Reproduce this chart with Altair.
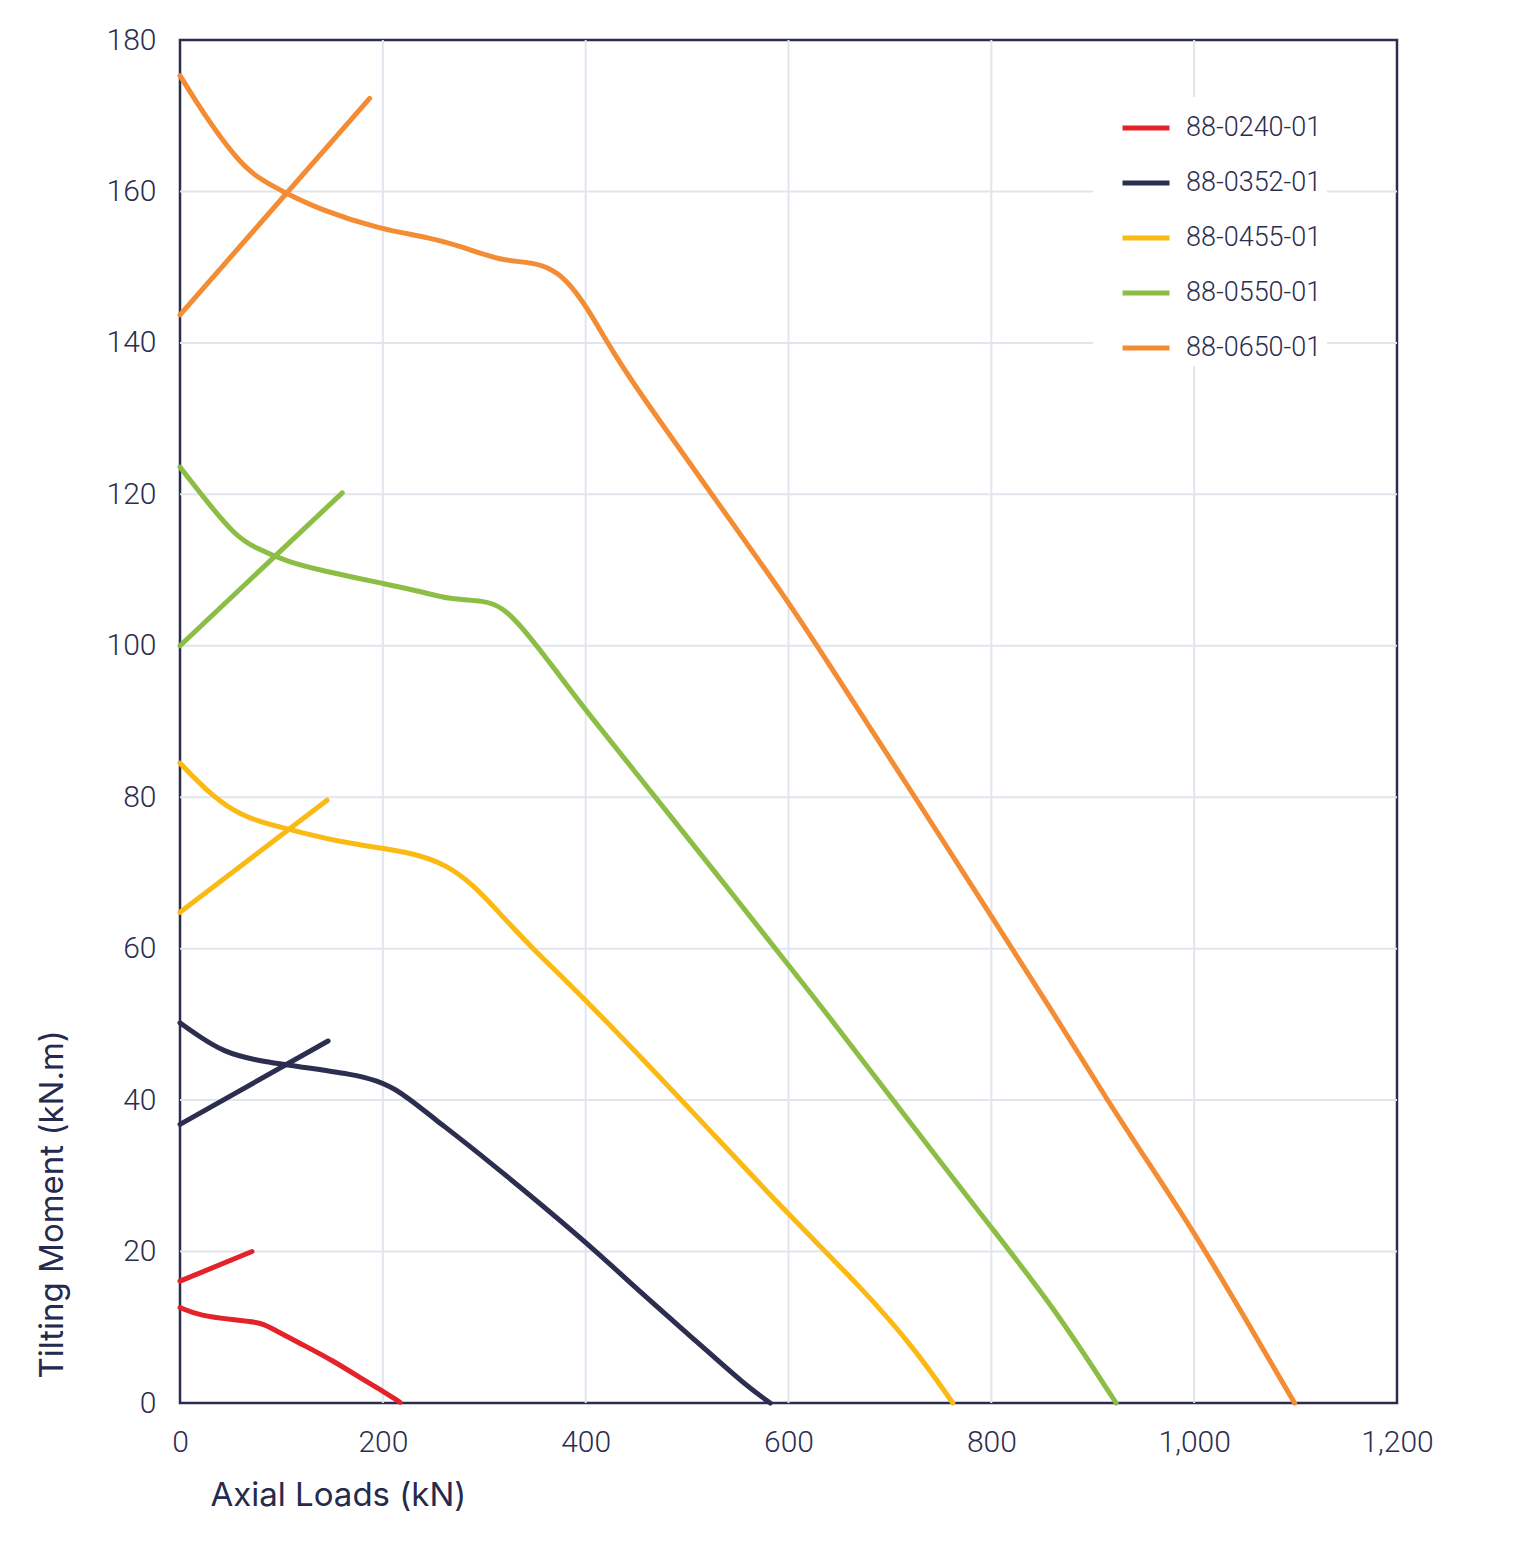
import altair as alt
import pandas as pd

products = ["88-0240-01", "88-0352-01", "88-0455-01", "88-0550-01", "88-0650-01"]
colors = ["#e3222a", "#2c2e50", "#fbb914", "#8cbd45", "#f38c33"]

# descending curves (axial load kN, tilting moment kN.m) and ascending lines
red_dx = [0, 20, 53, 79, 86, 118, 151, 184, 201, 217]
red_dy = [12.6, 11.5, 11.0, 10.6, 10.2, 7.9, 5.6, 2.8, 1.5, 0.1]
red_ax = [0, 71]
red_ay = [16.1, 20.0]

navy_dx = [0, 20, 43, 72, 118, 171, 194, 217, 250, 296, 404, 444, 513, 557, 582]
navy_dy = [50.2, 48.3, 46.4, 45.3, 44.4, 43.4, 42.6, 41.2, 37.6, 32.9, 20.9, 15.8, 7.7, 2.4, 0]
navy_ax = [0, 146]
navy_ay = [36.8, 47.8]

yel_dx = [0, 25, 54, 79, 118, 158, 197, 230, 263, 289, 309, 345, 401, 513, 591, 676, 726, 762]
yel_dy = [84.5, 81.0, 78.0, 76.7, 75.4, 74.1, 73.3, 72.6, 71.1, 68.4, 65.6, 60.3, 53.2, 37.4, 26.1, 14.7, 6.9, 0]
yel_ax = [0, 145]
yel_ay = [64.8, 79.6]

grn_dx = [0, 25, 54, 74, 108, 138, 197, 237, 266, 300, 318, 338, 368, 401, 467, 526, 600, 631, 703, 799, 862, 923]
grn_dy = [123.6, 119.3, 114.6, 112.9, 111.0, 110.0, 108.3, 107.2, 106.1, 106.0, 105.1, 102.4, 97.2, 91.3, 80.3, 70.4, 57.8, 52.6, 40.0, 23.3, 12.6, 0]
grn_ax = [0, 160]
grn_ay = [100.0, 120.2]

org_dx = [0, 23, 56, 76, 104, 138, 197, 247, 280, 316, 342, 362, 381, 401, 427, 460, 526, 600, 631, 720, 799, 859, 916, 964, 1000, 1049, 1099]
org_dy = [175.3, 170.3, 164.2, 161.8, 159.8, 157.6, 155.0, 153.9, 152.6, 150.9, 150.7, 150.1, 148.4, 144.8, 138.7, 132.1, 119.7, 105.8, 99.4, 81.0, 64.5, 52.0, 39.6, 29.9, 22.5, 11.5, 0]
org_ax = [0, 187]
org_ay = [143.7, 172.3]

x_ticks = [0, 200, 400, 600, 800, 1000, 1200]
y_ticks = [0, 20, 40, 60, 80, 100, 120, 140, 160, 180]

series = [
    (products[0], red_dx, red_dy, red_ax, red_ay),
    (products[1], navy_dx, navy_dy, navy_ax, navy_ay),
    (products[2], yel_dx, yel_dy, yel_ax, yel_ay),
    (products[3], grn_dx, grn_dy, grn_ax, grn_ay),
    (products[4], org_dx, org_dy, org_ax, org_ay),
]

rows = []
order = 0
for name, dx, dy, ax, ay in series:
    for x, y in zip(dx, dy):
        rows.append({"product": name, "seg": name + "-d", "load": x, "moment": y, "o": order})
        order += 1
    for x, y in zip(ax, ay):
        rows.append({"product": name, "seg": name + "-a", "load": x, "moment": y, "o": order})
        order += 1
df = pd.DataFrame(rows)

navy = "#2b2d4f"
grid_col = "#e1e5ee"
label_font = "Roboto"

xscale = alt.Scale(domain=[0, 1200], nice=False)
yscale = alt.Scale(domain=[0, 180], nice=False)

x_axis = alt.Axis(values=x_ticks, format=",.0f", title="Axial Loads (kN)",
                  grid=False, domain=False, ticks=False, labelFlush=False,
                  labelFont=label_font, labelFontWeight=300, labelFontSize=30,
                  labelColor=navy, labelPadding=24,
                  titleFont="Inter", titleFontWeight=400, titleFontSize=33,
                  titleColor="#262a4d", titleAnchor="start", titleAlign="left",
                  titleX=30, titleY=92, titleBaseline="middle")
y_axis = alt.Axis(values=y_ticks, title="Tilting Moment (kN.m)",
                  grid=False, domain=False, ticks=False, labelFlush=False,
                  labelFont=label_font, labelFontWeight=300, labelFontSize=30,
                  labelColor=navy, labelPadding=24,
                  titleFont="Inter", titleFontWeight=400, titleFontSize=33,
                  titleColor="#262a4d", titleAnchor="start", titleAlign="left",
                  titleAngle=-90, titleX=-128, titleY=1338, titleBaseline="middle")

# interior grid lines (the frame draws the outer edges)
vgrid = alt.Chart(pd.DataFrame({"load": x_ticks[1:-1]})).mark_rule(
    color=grid_col, strokeWidth=2
).encode(x=alt.X("load:Q", scale=xscale, axis=x_axis))
hgrid = alt.Chart(pd.DataFrame({"moment": y_ticks[1:-1]})).mark_rule(
    color=grid_col, strokeWidth=2
).encode(y=alt.Y("moment:Q", scale=yscale, axis=y_axis))

lines = alt.Chart(df).mark_line(
    strokeWidth=5, strokeCap="round", interpolate="basis"
).encode(
    x=alt.X("load:Q", scale=xscale, axis=x_axis),
    y=alt.Y("moment:Q", scale=yscale, axis=y_axis),
    color=alt.Color("product:N",
                    scale=alt.Scale(domain=products, range=colors),
                    legend=alt.Legend(title=None, orient="none", legendX=913, legendY=57,
                                      symbolType="stroke", symbolSize=2209, symbolStrokeWidth=5,
                                      symbolOffset=22,
                                      labelFont=label_font, labelFontWeight=300, labelFontSize=27,
                                      labelColor=navy, labelOffset=14, rowPadding=16,
                                      fillColor="white", padding=5)),
    detail="seg:N",
    order="o:Q",
)

chart = alt.layer(vgrid, hgrid, lines).properties(
    width=1217, height=1363,
    padding={"left": 172, "top": 32, "right": 113, "bottom": 140},
    autosize="none",
).configure_view(
    stroke=navy, strokeWidth=2.5
)

chart.save("out.html", embed_options={"renderer": "svg", "actions": False})
